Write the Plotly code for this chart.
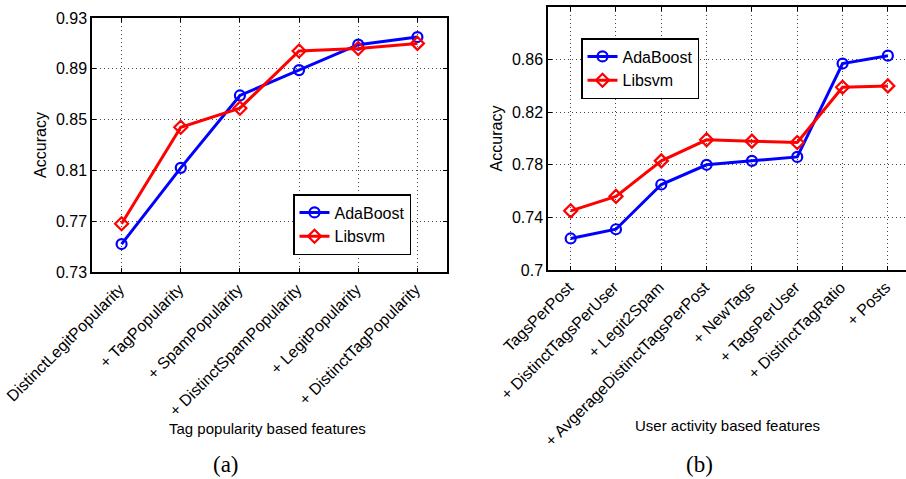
import plotly.graph_objects as go

# ---- data ----
cats_a = ["DistinctLegitPopularity", "+ TagPopularity", "+ SpamPopularity",
          "+ DistinctSpamPopularity", "+ LegitPopularity", "+ DistinctTagPopularity"]
ada_a = [0.752, 0.812, 0.869, 0.889, 0.909, 0.915]
svm_a = [0.768, 0.844, 0.859, 0.904, 0.906, 0.910]

cats_b = ["TagsPerPost", "+ DistinctTagsPerUser", "+ Legit2Spam",
          "+ AvgerageDistinctTagsPerPost", "+ NewTags", "+ TagsPerUser",
          "+ DistinctTagRatio", "+ Posts"]
ada_b = [0.724, 0.731, 0.765, 0.780, 0.783, 0.786, 0.857, 0.863]
svm_b = [0.745, 0.756, 0.783, 0.799, 0.798, 0.797, 0.839, 0.840]

yticks_a = [0.73, 0.77, 0.81, 0.85, 0.89, 0.93]
yticks_b = [0.7, 0.74, 0.78, 0.82, 0.86, 0.9]

W, H = 906, 479
FONT = "Arial"
SERIF = "Liberation Serif"
BLUE = "#0000ff"
RED = "#ff0000"
FS = 16

fig = go.Figure()

xa = list(range(1, len(cats_a) + 1))
xb = list(range(1, len(cats_b) + 1))

def add(x, y, name, color, symbol, size, xax, yax, leg):
    fig.add_trace(go.Scatter(x=x, y=y, name=name, mode="lines+markers",
                             line=dict(color=color, width=3),
                             marker=dict(symbol=symbol, size=size,
                                         line=dict(width=2.2, color=color)),
                             xaxis=xax, yaxis=yax, legend=leg))

add(xa, ada_a, "AdaBoost", BLUE, "circle-open", 10, "x", "y", "legend")
add(xa, svm_a, "Libsvm", RED, "diamond-open", 10, "x", "y", "legend")
add(xb, ada_b, "AdaBoost", BLUE, "circle-open", 10, "x2", "y2", "legend2")
add(xb, svm_b, "Libsvm", RED, "diamond-open", 10, "x2", "y2", "legend2")

GRID = dict(showgrid=True, gridcolor="#444", griddash="1px,3px", gridwidth=1, zeroline=False)
common_x = dict(showline=True, linecolor="black", linewidth=1.5, ticks="inside",
                ticklen=4, tickcolor="black", tickangle=-45, ticklabelshift=-2,
                tickfont=dict(family=FONT, size=FS, color="black"), automargin=False, **GRID)
common_y = dict(showline=True, linecolor="black", linewidth=1.5, ticks="inside",
                ticklen=4, tickcolor="black",
                tickfont=dict(family=FONT, size=FS, color="black"), automargin=False,
                title=dict(text="Accuracy", font=dict(family=FONT, size=FS, color="black"),
                           standoff=5), **GRID)

fig.update_layout(
    width=W, height=H,
    margin=dict(l=0, r=0, t=0, b=0),
    paper_bgcolor="white", plot_bgcolor="white",
    showlegend=True,
    xaxis=dict(common_x, domain=[92 / W, 447 / W], range=[0.5, len(cats_a) + 0.5],
               tickmode="array", tickvals=xa, ticktext=cats_a, mirror="ticks", anchor="y"),
    yaxis=dict(common_y, domain=[1 - 272 / H, 1 - 18 / H], range=[yticks_a[0], yticks_a[-1]],
               tickmode="array", tickvals=yticks_a, ticktext=[f"{v:g}" for v in yticks_a],
               mirror="ticks", anchor="x"),
    xaxis2=dict(common_x, domain=[548 / W, 1.0], range=[0.5, len(cats_b) + 0.4],
                tickmode="array", tickvals=xb, ticktext=cats_b, mirror="ticks", anchor="y2"),
    yaxis2=dict(common_y, domain=[1 - 270 / H, 1 - 7 / H], range=[yticks_b[0], yticks_b[-1]],
                tickmode="array", tickvals=yticks_b, ticktext=[f"{v:g}" for v in yticks_b],
                mirror=False, anchor="x2"),
    legend=dict(x=293 / W, y=1 - 194 / H, xanchor="left", yanchor="top",
                bordercolor="black", borderwidth=1.5, bgcolor="white",
                font=dict(family=FONT, size=FS, color="black"), tracegroupgap=0),
    legend2=dict(x=581 / W, y=1 - 38 / H, xanchor="left", yanchor="top",
                 bordercolor="black", borderwidth=1.5, bgcolor="white",
                 font=dict(family=FONT, size=FS, color="black"), tracegroupgap=0),
)

annots = [
    dict(text="Tag popularity based features", x=267 / W, y=1 - 428 / H,
         font=dict(family=FONT, size=FS - 1, color="black")),
    dict(text="User activity based features", x=727 / W, y=1 - 425 / H,
         font=dict(family=FONT, size=FS - 1, color="black")),
    dict(text="(a)", x=226 / W, y=1 - 464 / H,
         font=dict(family=SERIF, size=23, color="black")),
    dict(text="(b)", x=699 / W, y=1 - 464 / H,
         font=dict(family=SERIF, size=23, color="black")),
]
for a in annots:
    fig.add_annotation(xref="paper", yref="paper", showarrow=False,
                       xanchor="center", yanchor="middle", **a)

fig.write_html("out.html")
